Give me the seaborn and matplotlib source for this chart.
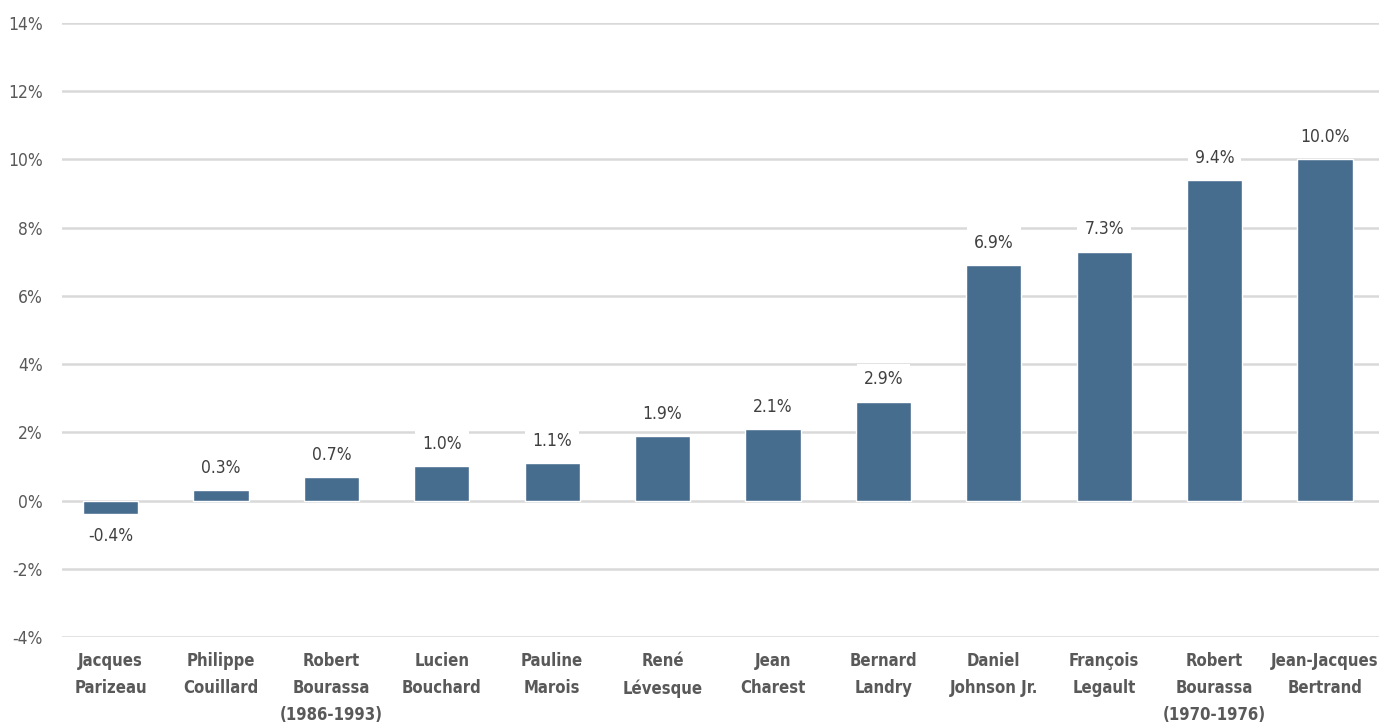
import pandas as pd
import seaborn as sns
import matplotlib.pyplot as plt
from matplotlib import font_manager

# Data
names = ['Jacques\nParizeau', 'Philippe\nCouillard', 'Robert\nBourassa\n(1986-1993)',
         'Lucien\nBouchard', 'Pauline\nMarois', 'René\nLévesque', 'Jean\nCharest',
         'Bernard\nLandry', 'Daniel\nJohnson Jr.', 'François\nLegault',
         'Robert\nBourassa\n(1970-1976)', 'Jean-Jacques\nBertrand']
values = [-0.4, 0.3, 0.7, 1.0, 1.1, 1.9, 2.1, 2.9, 6.9, 7.3, 9.4, 10.0]
y_ticks = [-4, -2, 0, 2, 4, 6, 8, 10, 12, 14]

df = pd.DataFrame({'name': names, 'value': values})

sns.set_theme(style='white')

# condensed face if there is one, else Roboto a bit smaller
fonts = font_manager.fontManager.ttflist
has_narrow = any(f.name == 'Liberation Sans Narrow' for f in fonts)
has_cond = any(f.name == 'DejaVu Sans' and f.stretch == 'condensed' for f in fonts)
stretch = 'normal'
if has_narrow:
    fam, fs = 'Liberation Sans Narrow', 13
elif has_cond:
    fam, fs, stretch = 'DejaVu Sans', 12, 'condensed'
else:
    fam, fs = 'Roboto', 11.5
plt.rcParams['font.family'] = [fam, 'DejaVu Sans']
plt.rcParams['font.stretch'] = stretch

fig = plt.figure(figsize=(13.79, 7.25), dpi=100)
ax = fig.add_axes([62 / 1379, 1 - 637 / 725, 1 - 62 / 1379, (637 - 23) / 725])

sns.barplot(data=df, x='name', y='value', color='#476d8e', saturation=1,
            width=0.5, ax=ax, zorder=3)

ax.set_ylim(-4, 14)
ax.set_xlim(-0.44, 11.49)
ax.set_yticks(y_ticks)
ax.set_yticklabels([f'{t}%' for t in y_ticks], fontsize=fs + 0.5, color='#595959')
ax.yaxis.grid(True, color='#d9d9d9', linewidth=1.8, zorder=0)
ax.set_axisbelow(True)
for s in ax.spines.values():
    s.set_visible(False)
ax.tick_params(axis='y', length=0, pad=14)
ax.tick_params(axis='x', length=0, pad=11)
for lab in ax.get_xticklabels():
    lab.set_fontsize(fs)
    lab.set_fontweight('bold')
    lab.set_color('#595959')
    lab.set_linespacing(1.65)
ax.set_xlabel('')
ax.set_ylabel('')

for i, v in enumerate(values):
    off = 0.65 if v >= 0 else -0.65
    ax.text(i, v + off, f'{v:.1f}%', ha='center', va='center', fontsize=fs + 0.5,
            color='#404040', zorder=4,
            bbox=dict(facecolor='white', edgecolor='none', pad=5))

fig.savefig('out.png', dpi=100)
